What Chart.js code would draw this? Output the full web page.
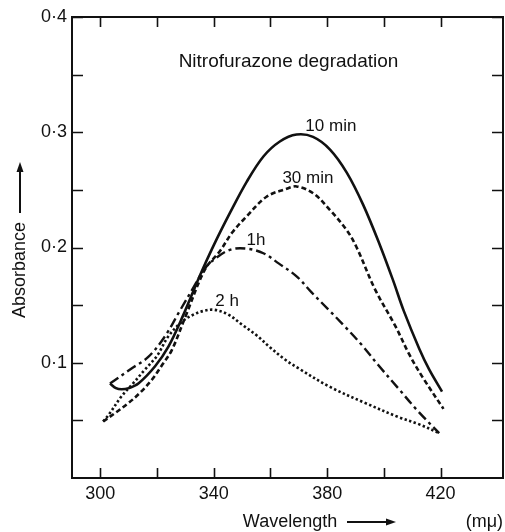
<!DOCTYPE html>
<html>
<head>
<meta charset="utf-8">
<script src="https://cdn.jsdelivr.net/npm/chart.js@4.4.0/dist/chart.umd.min.js"></script>
<style>
  html, body { margin: 0; padding: 0; background: #fff; }
  #wrap { width: 505px; height: 532px; }
</style>
</head>
<body>
<div id="wrap"><canvas id="chart-absorbance" width="505" height="532"></canvas></div>
<script>
/* ==========================================
   DATA
   ========================================== */

// [wavelength (mμ), absorbance]
const curve10min = [
    [303.4, 0.082], [305.5, 0.078], [307.5, 0.077], [310, 0.078], [313.4, 0.082], [319.3, 0.097],
    [324, 0.114], [329, 0.14], [335, 0.175], [339.8, 0.201], [345.7, 0.23], [351.6, 0.257],
    [357.5, 0.279], [363.3, 0.292], [369.2, 0.298], [375, 0.296], [381, 0.285], [386.9, 0.265],
    [392.7, 0.237], [398.6, 0.202], [403.3, 0.171], [407, 0.145], [412.5, 0.112], [416, 0.094], [420.5, 0.075]
];
const curve30min = [
    [301, 0.049], [305, 0.056], [309.9, 0.065], [314, 0.074], [318.1, 0.085], [321.5, 0.097],
    [325.2, 0.111], [330, 0.14], [336.9, 0.181], [342.2, 0.197], [346.5, 0.213], [351.6, 0.227],
    [358.6, 0.244], [365.7, 0.251], [369.2, 0.253], [375.1, 0.247], [381, 0.2325], [386.9, 0.215],
    [390.4, 0.2], [397, 0.163], [404, 0.132], [409, 0.107], [413.5, 0.088], [421, 0.06]
];
const curve1h = [
    [303.4, 0.082], [305.2, 0.085], [311, 0.095], [316.9, 0.105], [322.8, 0.123], [328, 0.145],
    [333, 0.166], [336.9, 0.182], [339.8, 0.189], [345.7, 0.198], [351.6, 0.199], [357.5, 0.195],
    [363, 0.186], [369.2, 0.175], [374.5, 0.161], [380.5, 0.146], [386, 0.132], [392, 0.116],
    [398, 0.098], [405, 0.078], [412, 0.058], [419.5, 0.039]
];
const curve2h = [
    [301, 0.049], [303, 0.055], [307.5, 0.071], [311.5, 0.082], [315.7, 0.094], [320, 0.106],
    [324, 0.123], [329, 0.136], [333, 0.142], [336.5, 0.145], [340, 0.146], [345, 0.142],
    [350, 0.133], [355, 0.124], [360, 0.113], [365, 0.103], [370, 0.095], [381, 0.079],
    [393.5, 0.065], [405, 0.053], [412, 0.047], [419.5, 0.039]
];

const seriesNames = ['10 min', '30 min', '1h', '2 h'];
// where each curve's name sits, in data units
const nameAnchors = [[381.3, 0.305], [373.2, 0.26], [354.9, 0.206], [344.7, 0.153]];

const xTickValues = [300, 320, 340, 360, 380, 400, 420];
const xTickLabels = ['300', '', '340', '', '380', '', '420'];
const yTickValues = [0.05, 0.1, 0.15, 0.2, 0.25, 0.3, 0.35, 0.4];
const yTickLabels = ['', '0·1', '', '0·2', '', '0·3', '', '0·4'];

const chartTitle = 'Nitrofurazone degradation';

/* ==========================================
   CHART
   ========================================== */

Chart.defaults.color = '#111';
Chart.defaults.font.family = "'Liberation Sans', Arial, sans-serif";
Chart.defaults.font.size = 18;

const toXY = arr => arr.map(p => ({ x: p[0], y: p[1] }));

// inward ticks on all four sides + box + texts
const framePlugin = {
    id: 'frame',
    afterDatasetsDraw(chart) {
        const { ctx, chartArea: a, scales: { x, y } } = chart;
        ctx.save();
        ctx.strokeStyle = '#111';
        ctx.lineWidth = 2;
        ctx.strokeRect(a.left, a.top, a.right - a.left, a.bottom - a.top);

        ctx.lineWidth = 1.6;
        ctx.beginPath();
        xTickValues.forEach(v => {
            const px = Math.round(x.getPixelForValue(v)) + 0.5;
            ctx.moveTo(px, a.bottom); ctx.lineTo(px, a.bottom - 10);
            ctx.moveTo(px, a.top); ctx.lineTo(px, a.top + 10);
        });
        yTickValues.forEach(v => {
            const py = Math.round(y.getPixelForValue(v)) + 0.5;
            ctx.moveTo(a.left, py); ctx.lineTo(a.left + 11, py);
            ctx.moveTo(a.right, py); ctx.lineTo(a.right - 11, py);
        });
        ctx.stroke();

        // curve names
        ctx.fillStyle = '#111';
        ctx.textAlign = 'center';
        ctx.textBaseline = 'middle';
        ctx.font = "17px 'Liberation Sans', Arial, sans-serif";
        seriesNames.forEach((name, i) => {
            const [vx, vy] = nameAnchors[i];
            ctx.fillText(name, x.getPixelForValue(vx), y.getPixelForValue(vy));
        });

        // title inside the box
        ctx.font = "19px 'Liberation Sans', Arial, sans-serif";
        ctx.fillText(chartTitle, (a.left + a.right) / 2 + 1, a.top + 45);

        // x axis title with arrow
        ctx.font = "18px 'Liberation Sans', Arial, sans-serif";
        const ty = a.bottom + 44;
        ctx.fillText('Wavelength', 290, ty);
        drawArrow(ctx, 347, ty, 396, ty);
        ctx.textAlign = 'right';
        ctx.fillText('(mμ)', a.right, ty);

        // y axis title with arrow (rotated)
        ctx.translate(20, 270);
        ctx.rotate(-Math.PI / 2);
        ctx.textAlign = 'center';
        ctx.fillText('Absorbance', 0, 0);
        drawArrow(ctx, 57, 0, 108, 0);
        ctx.restore();
    }
};

function drawArrow(ctx, x0, y0, x1, y1) {
    ctx.save();
    ctx.lineWidth = 2;
    ctx.beginPath();
    ctx.moveTo(x0, y0); ctx.lineTo(x1 - 8, y1);
    ctx.stroke();
    ctx.beginPath();
    ctx.moveTo(x1, y1); ctx.lineTo(x1 - 10, y1 - 3.5); ctx.lineTo(x1 - 10, y1 + 3.5);
    ctx.closePath();
    ctx.fill();
    ctx.restore();
}

const baseLine = { pointRadius: 0, borderColor: '#111', fill: false, tension: 0.35 };

new Chart(document.getElementById('chart-absorbance'), {
    type: 'line',
    data: {
        datasets: [
            { ...baseLine, label: seriesNames[0], data: toXY(curve10min), borderWidth: 2.6 },
            { ...baseLine, label: seriesNames[1], data: toXY(curve30min), borderWidth: 2.6, borderDash: [5, 3] },
            { ...baseLine, label: seriesNames[2], data: toXY(curve1h), borderWidth: 2.4, borderDash: [10, 4, 3, 4] },
            { ...baseLine, label: seriesNames[3], data: toXY(curve2h), borderWidth: 2.6, borderDash: [2.4, 2.4] }
        ]
    },
    options: {
        responsive: false,
        animation: false,
        layout: { padding: { top: 17, right: 2, left: 0, bottom: 0 } },
        plugins: { legend: { display: false }, tooltip: { enabled: false } },
        scales: {
            x: {
                type: 'linear', min: 290, max: 442,
                grid: { display: false, drawTicks: false },
                border: { display: false },
                afterBuildTicks: s => { s.ticks = xTickValues.map(v => ({ value: v })); },
                afterFit: s => { s.height = 54; },
                ticks: { autoSkip: false, maxRotation: 0, padding: 5, callback: (v, i) => xTickLabels[i] }
            },
            y: {
                type: 'linear', min: 0, max: 0.4,
                grid: { display: false, drawTicks: false },
                border: { display: false },
                afterBuildTicks: s => { s.ticks = yTickValues.map(v => ({ value: v })); },
                afterFit: s => { s.width = 72; },
                ticks: { autoSkip: false, padding: 5, callback: (v, i) => yTickLabels[i] }
            }
        }
    },
    plugins: [framePlugin]
});
</script>
</body>
</html>
